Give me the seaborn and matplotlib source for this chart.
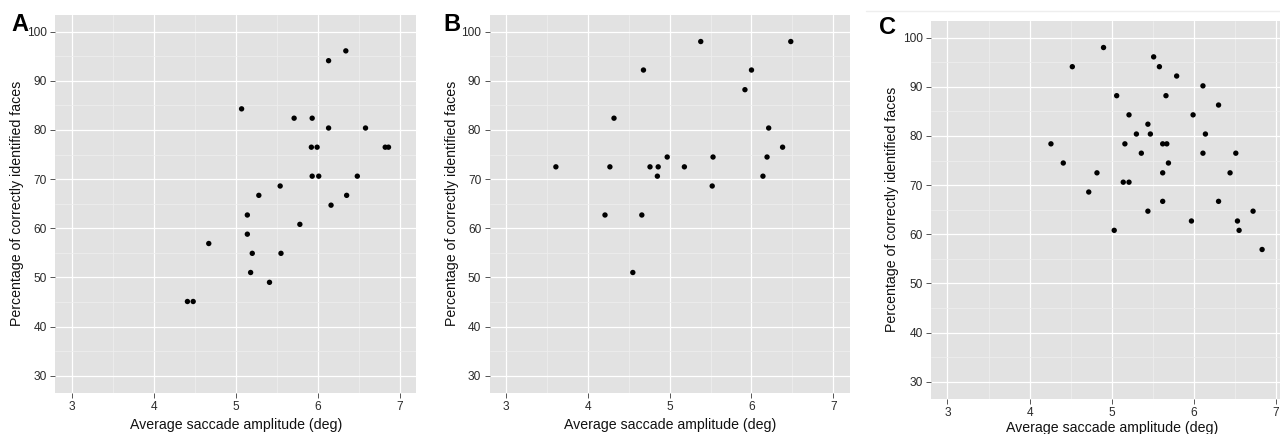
import numpy as np
import pandas as pd
import matplotlib
matplotlib.use("Agg")
import matplotlib.pyplot as plt
import seaborn as sns

# ---------------- data ----------------
a_amp = [6.34, 6.13, 5.07, 5.71, 5.93, 6.13, 6.58, 5.92, 5.99, 6.82, 6.86,
         5.93, 6.01, 6.48, 5.54, 5.28, 6.35, 6.16, 5.14, 5.78, 5.14, 4.67,
         5.20, 5.55, 5.18, 5.41, 4.41, 4.48]
a_pct = [96.1, 94.1, 84.3, 82.4, 82.4, 80.4, 80.4, 76.5, 76.5, 76.5, 76.5,
         70.6, 70.6, 70.6, 68.6, 66.7, 66.7, 64.7, 62.7, 60.8, 58.8, 56.9,
         54.9, 54.9, 51.0, 49.0, 45.1, 45.1]

b_amp = [5.38, 6.48, 4.68, 6.00, 5.92, 4.32, 6.21, 6.38, 4.97, 5.53, 6.19,
         3.61, 4.27, 4.76, 4.86, 5.18, 4.85, 6.14, 5.52, 4.21, 4.66, 4.55]
b_pct = [98.0, 98.0, 92.2, 92.2, 88.2, 82.4, 80.4, 76.5, 74.5, 74.5, 74.5,
         72.5, 72.5, 72.5, 72.5, 72.5, 70.6, 70.6, 68.6, 62.7, 62.7, 51.0]

c_amp = [4.90, 5.51, 4.52, 5.58, 5.79, 6.11, 5.06, 5.66, 6.30, 5.21, 5.99,
         5.44, 5.30, 5.47, 6.14, 4.26, 5.16, 5.62, 5.67, 5.36, 6.11, 6.51,
         4.41, 5.69, 4.82, 5.62, 6.44, 5.14, 5.21, 4.72, 5.62, 6.30, 5.44,
         6.72, 5.97, 6.53, 5.03, 6.55, 6.83]
c_pct = [98.0, 96.1, 94.1, 94.1, 92.2, 90.2, 88.2, 88.2, 86.3, 84.3, 84.3,
         82.4, 80.4, 80.4, 80.4, 78.4, 78.4, 78.4, 78.4, 76.5, 76.5, 76.5,
         74.5, 74.5, 72.5, 72.5, 72.5, 70.6, 70.6, 68.6, 66.7, 66.7, 64.7,
         64.7, 62.7, 62.7, 60.8, 60.8, 56.9]

panel_labels = ["A", "B", "C"]
x_ticks = [3, 4, 5, 6, 7]
y_ticks = [30, 40, 50, 60, 70, 80, 90, 100]
x_title = "Average saccade amplitude (deg)"
y_title = "Percentage of correctly identified faces"

# ---------------- style ----------------
sns.set_style("white")
plt.rcParams["font.family"] = ["Liberation Sans", "DejaVu Sans"]

W, H = 1280, 434
fig = plt.figure(figsize=(W / 100, H / 100), dpi=100)

def px_axes(l, t, r, b):
    return fig.add_axes([l / W, 1 - b / H, (r - l) / W, (b - t) / H])

boxes = [(55.3, 14.5, 416.4, 392.9),
         (489.6, 14.5, 849.7, 392.9),
         (931.0, 20.5, 1292.5, 398.9)]
datasets = [(a_amp, a_pct), (b_amp, b_pct), (c_amp, c_pct)]
label_pos = [(11, 13), (443, 13), (879, 16)]
ylab_x = [17, 452, 892]
xlab_pad = [3, 3, 1.5]

# faint line above panel C (from the composite source)
fig.add_artist(plt.Line2D([866 / W, 1.0], [1 - 11 / H, 1 - 11 / H],
                          color="#eeeeee", lw=1.0))

for i, ((l, t, r, b), (xs, ys)) in enumerate(zip(boxes, datasets)):
    ax = px_axes(l, t, r, b)
    ax.set_facecolor("#e2e2e2")
    df = pd.DataFrame({"amp": xs, "pct": ys})
    ax.set_axisbelow(True)
    sns.scatterplot(data=df, x="amp", y="pct", ax=ax, color="black",
                    s=15, edgecolor="none", linewidth=0, zorder=3)
    ax.set_xlim(2.8, 7.2)
    ax.set_ylim(26.5, 103.5)
    ax.set_xticks(x_ticks)
    ax.set_yticks(y_ticks)
    ax.set_xticks(np.arange(3.5, 7.0, 1.0), minor=True)
    ax.set_yticks(np.arange(35, 100, 10), minor=True)
    ax.grid(which="major", color="white", lw=0.9)
    ax.grid(which="minor", color="#efefef", lw=0.5)
    for s in ax.spines.values():
        s.set_visible(False)
    ax.tick_params(which="major", length=3.6, width=0.7, color="#555555",
                   labelsize=8.6, labelcolor="#2a2a2a", pad=2.5,
                   bottom=True, left=True)
    ax.tick_params(which="minor", length=0)
    ax.set_xlabel(x_title, fontsize=10.2, color="#111111", labelpad=xlab_pad[i])
    ax.set_ylabel("")
    cy = (t + b) / 2
    fig.text(ylab_x[i] / W, 1 - cy / H, y_title, rotation=90, fontsize=10.2,
             color="#111111", ha="center", va="center")
    lx, ly = label_pos[i]
    fig.text(lx / W, 1 - ly / H, panel_labels[i], fontsize=17,
             fontweight="bold", ha="left", va="top", color="black")

fig.savefig("out.png", dpi=100)
